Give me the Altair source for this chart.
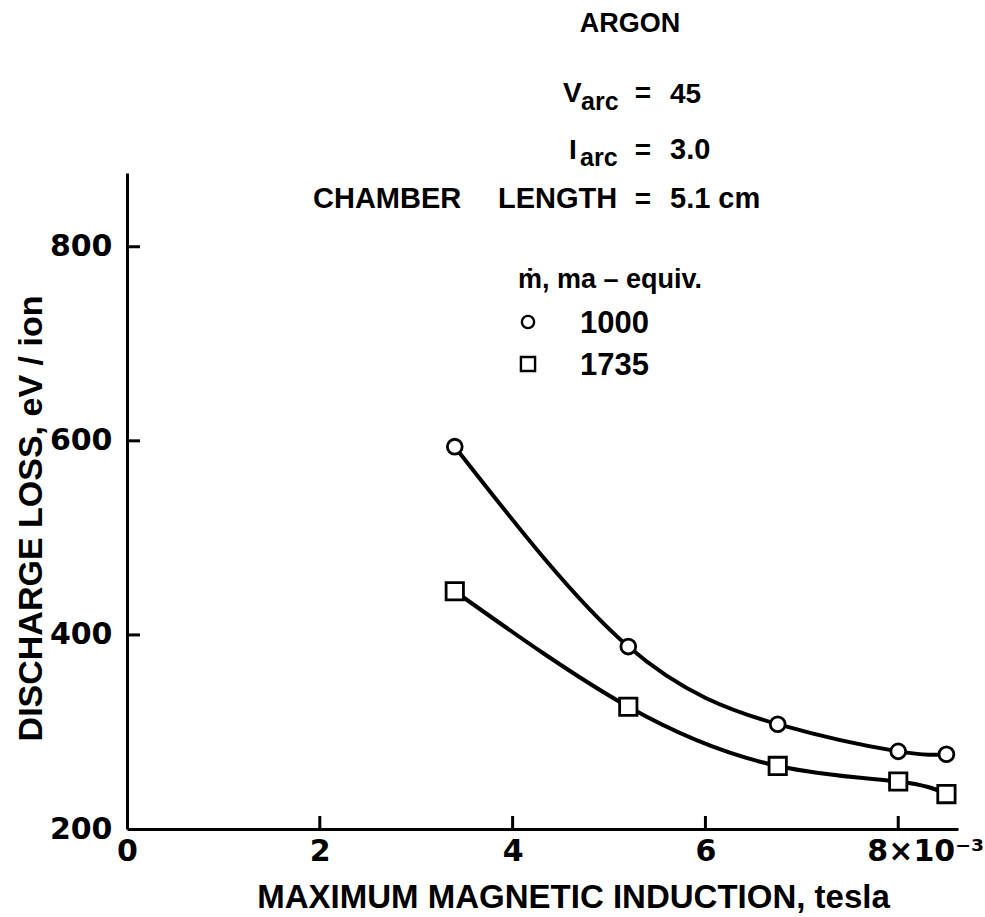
import altair as alt
import pandas as pd

# ---- data ----
x_tesla = [3.4, 5.2, 6.75, 8.0, 8.5]          # x 10^-3 tesla
loss_1000 = [594, 388, 308, 280, 277]          # eV/ion, m-dot = 1000 ma-equiv
loss_1735 = [445, 326, 265, 249, 236]          # eV/ion, m-dot = 1735 ma-equiv
series = ["1000", "1735"]
x_ticks = [0, 2, 4, 6, 8]
y_ticks = [200, 400, 600, 800]

df = pd.DataFrame({
    "x": x_tesla + x_tesla,
    "y": loss_1000 + loss_1735,
    "series": [series[0]] * len(x_tesla) + [series[1]] * len(x_tesla),
})

# ---- layout ----
W, H = 831, 656
OX, OY = 127, 173
FT = "Liberation Sans"
FN = "DejaVu Sans"

xscale = alt.Scale(domain=[0, 8.62], nice=False, zero=False)
yscale = alt.Scale(domain=[200, 876], nice=False, zero=False)

x_axis = alt.Axis(
    values=x_ticks,
    title="MAXIMUM MAGNETIC INDUCTION, tesla",
    labelExpr="datum.value == 8 ? '8×10⁻³' : format(datum.value, 'd')",
    labelOffset={"condition": {"test": "datum.value == 8", "value": 27}, "value": 0},
    ticks=False, tickSize=0, labelPadding=7, labelFlush=False, labelOverlap=False,
    labelFont=FN, labelFontSize=30, labelFontWeight="bold", labelColor="black",
    titleFont=FT, titleFontSize=33, titleFontWeight="bold", titleColor="black",
    titleX=446, titleY=78, titleAlign="center", titleBaseline="alphabetic",
    grid=False, domainColor="black", domainWidth=3,
)
y_axis = alt.Axis(
    values=y_ticks,
    title="DISCHARGE LOSS, eV / ion",
    labelExpr="format(datum.value, 'd')",
    ticks=False, tickSize=0, labelPadding=15, labelFlush=False, labelOverlap=False,
    labelFont=FN, labelFontSize=30, labelFontWeight="bold", labelColor="black",
    titleFont=FT, titleFontSize=34, titleFontWeight="bold", titleColor="black",
    titleAngle=270, titleX=-86, titleY=345, titleAlign="center", titleBaseline="alphabetic",
    grid=False, domainColor="black", domainWidth=3,
)

lines = alt.Chart(df).mark_line(interpolate="natural", color="black", strokeWidth=4).encode(
    x=alt.X("x:Q", scale=xscale, axis=x_axis),
    y=alt.Y("y:Q", scale=yscale, axis=y_axis),
    detail="series:N",
)

points = alt.Chart(df).mark_point(filled=True, fill="white", stroke="black",
                                  strokeWidth=2.8, opacity=1).encode(
    x=alt.X("x:Q", scale=xscale),
    y=alt.Y("y:Q", scale=yscale),
    shape=alt.Shape("series:N", scale=alt.Scale(domain=series, range=["circle", "square"]), legend=None),
    size=alt.Size("series:N", scale=alt.Scale(domain=series, range=[220, 300]), legend=None),
)

# inward ticks
ytick = alt.Chart(pd.DataFrame({"y": y_ticks[1:]})).mark_rule(color="black", strokeWidth=3).encode(
    y=alt.Y("y:Q", scale=yscale), x=alt.value(0), x2=alt.value(13))
xtick = alt.Chart(pd.DataFrame({"x": x_ticks[1:]})).mark_rule(color="black", strokeWidth=3).encode(
    x=alt.X("x:Q", scale=xscale), y=alt.value(H), y2=alt.value(H - 13))

one = pd.DataFrame({"a": [0]})


def txt(s, x, y, size, align="left", font=FT):
    return alt.Chart(one).mark_text(
        text=s, align=align, baseline="alphabetic", font=font, fontSize=size,
        fontWeight="bold", color="black",
    ).encode(x=alt.value(x - OX), y=alt.value(y - OY))


notes = [
    txt("ARGON", 630, 32, 27, "center"),
    txt("V", 563, 102, 28),
    txt("arc", 581, 110, 25),
    txt("=", 643, 102, 28, "center"),
    txt("45", 670, 103, 28),
    txt("I", 569, 159, 28),
    txt("arc", 580, 166, 25),
    txt("=", 643, 159, 28, "center"),
    txt("3.0", 670, 159, 29),
    txt("CHAMBER", 313, 208, 29),
    txt("LENGTH", 498, 208, 29),
    txt("=", 643, 208, 28, "center"),
    txt("5.1 cm", 670, 208, 29),
    txt("ṁ, ma – equiv.", 518, 288, 27),
]

# legend (manual)
leg_shapes = ["circle", "square"]
leg_sizes = [150, 200]
leg_y = [322, 364]
legend = []
for i, name in enumerate(series):
    legend.append(alt.Chart(one).mark_point(
        shape=leg_shapes[i], size=leg_sizes[i], filled=True, fill="white",
        stroke="black", strokeWidth=2.4, opacity=1,
    ).encode(x=alt.value(528 - OX), y=alt.value(leg_y[i] - OY)))
    legend.append(txt(name, 580, leg_y[i] + 11, 31))

chart = alt.layer(lines, points, ytick, xtick, *notes, *legend).properties(
    width=W, height=H,
    autosize=alt.AutoSizeParams(type="none"),
    padding={"left": OX, "top": OY, "right": 985 - OX - W, "bottom": 917 - OY - H},
    background="white",
).configure_view(stroke="transparent")

chart.save("out.html", embed_options={"renderer": "svg", "actions": False})
